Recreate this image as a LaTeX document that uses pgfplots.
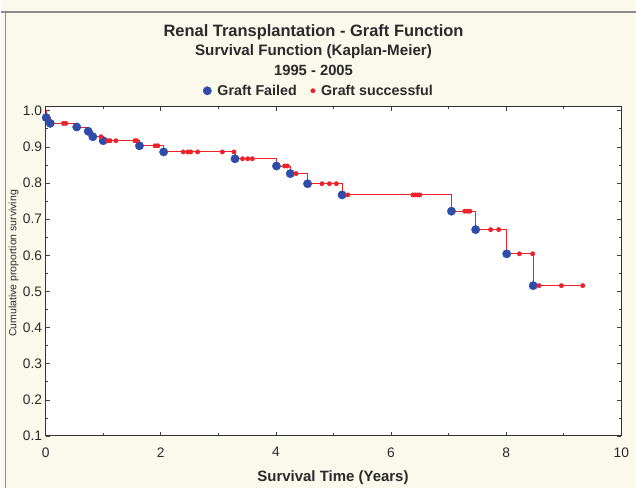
\documentclass[border=0pt]{standalone}
\usepackage{pgfplots}
\pgfplotsset{compat=1.18}
\usepackage{fontspec}
\setmainfont{Liberation Sans}
\definecolor{bgc}{HTML}{FBF8EC}
\definecolor{kmblue}{HTML}{2E4DAA}
\definecolor{kmred}{HTML}{EE2228}
\definecolor{txt}{HTML}{2A2A2A}

\begin{document}
\begin{tikzpicture}
\fill[bgc] (0pt,0pt) rectangle (637pt,489pt);
\draw[black!45, line width=1.5pt] (0pt,477pt) -- (637pt,477pt);
\draw[black!45, line width=1.2pt] (5pt,0pt) -- (5pt,477pt);
\begin{axis}[
  at={(45pt,52pt)}, anchor=south west,
  scale only axis, width=577pt, height=330pt,
  xmin=0, xmax=10, ymin=0.1, ymax=1.011,
  axis background/.style={fill=white},
  axis line style={draw=black!80, line width=1pt},
  tick style={black!75, line width=0.6pt},
  major tick length=4pt, minor tick length=2.5pt,
  tick align=inside,
  xtick={0,2,4,6,8,10}, minor x tick num=1,
  ytick={0.1,0.2,0.3,0.4,0.5,0.6,0.7,0.8,0.9,1.0}, minor y tick num=1,
  yticklabel style={/pgf/number format/fixed, /pgf/number format/fixed zerofill, /pgf/number format/precision=1},
  ticklabel style={font=\fontsize{13.8}{13.8}\selectfont, text=txt},
  /pgf/number format/assume math mode=true,
  xticklabel shift=8pt,
  clip=false,
  legend columns=2,
  legend style={at={(0.4749,1.0485)}, anchor=center, draw=none, fill=none,
    font=\bfseries\fontsize{14.3}{14.3}\selectfont, text=txt,
    /tikz/every odd column/.append style={column sep=4pt},
    /tikz/every even column/.append style={column sep=12pt}},
  legend cell align=left,
]
\addplot[const plot, kmred, line width=0.9pt, mark=none, forget plot] coordinates {
(0,1.0) (0.01,0.981) (0.08,0.965) (0.54,0.955) (0.74,0.943) (0.82,0.928)
(1.0,0.917) (1.63,0.903) (2.05,0.886) (3.29,0.867) (4.01,0.847) (4.25,0.826)
(4.55,0.798) (5.15,0.767) (7.05,0.722) (7.47,0.671) (8.01,0.604) (8.47,0.516)
(9.33,0.516)};
\addplot[only marks, mark=*, mark size=4.2pt, color=kmblue] coordinates {
(0.01,0.981) (0.08,0.965) (0.54,0.955) (0.74,0.943) (0.82,0.928)
(1.0,0.917) (1.63,0.903) (2.05,0.886) (3.29,0.867) (4.01,0.847) (4.25,0.826)
(4.55,0.798) (5.15,0.767) (7.05,0.722) (7.47,0.671) (8.01,0.604) (8.47,0.516)};
\addlegendentry{Graft Failed}
\addplot[only marks, mark=*, mark size=2.2pt, color=kmred] coordinates {
(0.31,0.965) (0.35,0.965)
(0.96,0.928)
(1.08,0.917) (1.12,0.917) (1.22,0.917) (1.55,0.917) (1.58,0.917)
(1.90,0.903) (1.95,0.903)
(2.39,0.886) (2.47,0.886) (2.52,0.886) (2.64,0.886) (3.07,0.886) (3.27,0.886)
(3.42,0.867) (3.51,0.867) (3.59,0.867)
(4.15,0.847) (4.20,0.847)
(4.35,0.826)
(4.80,0.798) (4.93,0.798) (5.05,0.798)
(5.25,0.767) (6.38,0.767) (6.42,0.767) (6.46,0.767) (6.50,0.767)
(7.28,0.722) (7.33,0.722) (7.37,0.722)
(7.73,0.671) (7.87,0.671)
(8.23,0.604) (8.46,0.604)
(8.57,0.516) (8.96,0.516) (9.33,0.516)};
\addlegendentry{Graft successful}
\end{axis}
\node[font=\bfseries\fontsize{16.5}{16.5}\selectfont, text=txt] at (313.5pt,457pt) {Renal Transplantation - Graft Function};
\node[font=\bfseries\fontsize{15.2}{15.2}\selectfont, text=txt] at (313.5pt,437pt) {Survival Function (Kaplan-Meier)};
\node[font=\bfseries\fontsize{14.8}{14.8}\selectfont, text=txt] at (313.5pt,418pt) {1995 - 2005};
\node[font=\bfseries\fontsize{15}{15}\selectfont, text=txt] at (333pt,10pt) {Survival Time (Years)};
\node[font=\fontsize{10.5}{10.5}\selectfont, text=txt, rotate=90] at (13pt,225pt) {Cumulative proportion surviving};
\end{tikzpicture}
\end{document}
